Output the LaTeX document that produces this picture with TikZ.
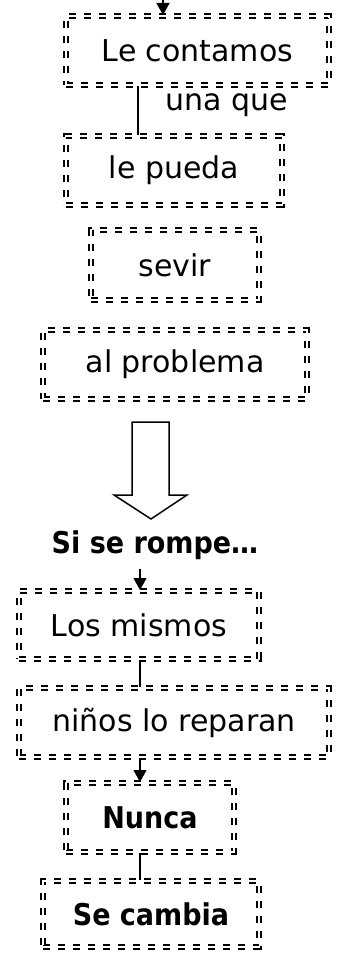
\documentclass[tikz,border=0pt]{standalone}
\usepackage{fontspec}
\setmainfont{DejaVu Sans}
\newfontfamily\negrita{DejaVu Sans}[FakeStretch=0.9]
\usetikzlibrary{arrows.meta}

\begin{document}
\begin{tikzpicture}[
    x=1pt,y=-1pt,
    caja/.style={draw,double,double distance=2pt,line width=2pt,
      dash pattern=on 7pt off 8pt,minimum height=69pt,inner sep=0pt,
      font=\fontsize{30}{36}\selectfont},
    texto/.style={inner sep=0pt,font=\fontsize{30}{36}\selectfont},
    fuerte/.style={font=\fontsize{30}{36}\selectfont\negrita\bfseries},
    enlace/.style={line width=1.5pt},
    flecha/.style={line width=1.5pt,-{Triangle[length=12pt,width=13pt]}}
    ]

    \useasboundingbox (0,0) rectangle (341,955);
    \clip (0,0) rectangle (341,955);

    \node (contamos) [caja,minimum width=263pt] at (197.5,50.5) {Le contamos};
    \node (unaque) [texto] at (227,105) {una que};
    \node (pueda) [caja,minimum width=216pt] at (174,170.5) {le pueda};
    \node (sevir) [caja,minimum width=168pt,minimum height=70pt] at (175,265) {sevir};
    \node (problema) [caja,minimum width=264pt] at (175,364.5) {al problema};

    \node (rompe) [texto,fuerte] at (155,545) {Si se rompe…};

    \node (mismos) [caja,minimum width=240pt,minimum height=68pt] at (139,625) {Los mismos};
    \node (reparan) [caja,minimum width=310pt] at (174,722.5) {niños lo reparan};
    \node (nunca) [caja,fuerte,minimum width=168pt] at (150,817.5) {Nunca};
    \node (cambia) [caja,fuerte,minimum width=216pt,minimum height=66pt] at (151,914) {Se cambia};

    % entrada desde arriba
    \coordinate (arriba) at (163,-15);
    \draw[flecha] (arriba) -- (contamos.north -| arriba);

    \coordinate (c1) at (138,0);
    \draw[enlace] (contamos.south -| c1) -- (pueda.north -| c1);

    % flecha hueca
    \draw[line width=1.5pt] (132,422) -- (169,422) -- (169,495) -- (187,495)
      -- (151,519) -- (114,495) -- (132,495) -- cycle;

    \coordinate (c2) at (140,0);
    \draw[flecha] ([yshift=-9pt]rompe.south -| c2) -- (mismos.north -| c2);
    \draw[enlace] (mismos.south -| c2) -- (reparan.north -| c2);
    \draw[flecha] (reparan.south -| c2) -- (nunca.north -| c2);
    \draw[enlace] (nunca.south -| c2) -- (cambia.north -| c2);

  \end{tikzpicture}
\end{document}
